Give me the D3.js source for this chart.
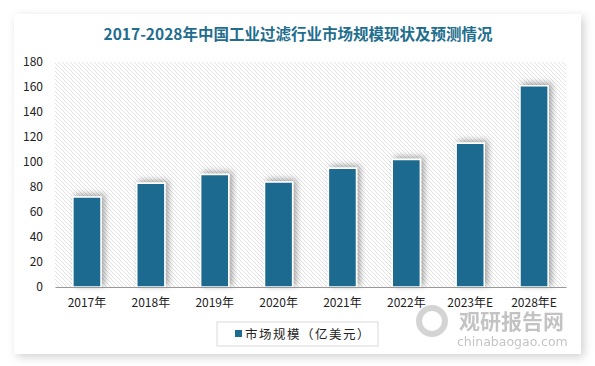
<!DOCTYPE html>
<html lang="zh">
<head>
<meta charset="utf-8">
<title>工业过滤行业市场规模</title>
<script src="https://cdn.jsdelivr.net/npm/d3@7/dist/d3.min.js"></script>
<style>
  body { margin: 0; background: #fff; }
  svg { display: block; font-family: "Noto Sans CJK SC", "Noto Sans", sans-serif; }
</style>
</head>
<body>
<script>
// data
var years = ['2017年', '2018年', '2019年', '2020年', '2021年', '2022年', '2023年E', '2028年E'];
var sizes = [72, 83, 90, 84, 95, 102, 115, 161];
var yTicks = [0, 20, 40, 60, 80, 100, 120, 140, 160, 180];

var W = 595, H = 366;
var plot = { left: 55, right: 566, top: 62, bottom: 287 };
var barColor = '#1d6b8f';

var svg = d3.select('body').append('svg')
    .attr('width', W)
    .attr('height', H);

var defs = svg.append('defs');

var card = defs.append('filter').attr('id', 'cardShadow')
    .attr('x', '-10%').attr('y', '-10%').attr('width', '120%').attr('height', '120%');
card.append('feDropShadow')
    .attr('dx', 3).attr('dy', 3).attr('stdDeviation', 5)
    .attr('flood-color', '#000').attr('flood-opacity', 0.18);

var barShadow = defs.append('filter').attr('id', 'barShadow')
    .attr('x', '-50%').attr('y', '-20%').attr('width', '200%').attr('height', '140%');
barShadow.append('feDropShadow')
    .attr('dx', 3).attr('dy', -2).attr('stdDeviation', 3)
    .attr('flood-color', '#000').attr('flood-opacity', 0.35);

var hatch = defs.append('pattern').attr('id', 'hatch')
    .attr('patternUnits', 'userSpaceOnUse')
    .attr('width', 4).attr('height', 4);
hatch.append('rect').attr('width', 4).attr('height', 4).attr('fill', '#fff');
hatch.append('path')
    .attr('d', 'M-1,-1L5,5M-1,3L1,5M3,-1L5,1')
    .attr('stroke', '#e0e0e0').attr('stroke-width', 0.9);

// card
svg.append('rect')
    .attr('x', 14).attr('y', 14)
    .attr('width', 567).attr('height', 340)
    .attr('fill', '#fff')
    .attr('filter', 'url(#cardShadow)');

// title
svg.append('text')
    .attr('x', 298).attr('y', 40)
    .attr('text-anchor', 'middle')
    .attr('fill', '#1f6e8e')
    .style('font-size', '15.5px')
    .style('font-weight', 'bold')
    .text('2017-2028年中国工业过滤行业市场规模现状及预测情况');

var x = d3.scaleBand()
    .domain(years)
    .range([plot.left, plot.right])
    .paddingInner(0.56)
    .paddingOuter(0.28);

var y = d3.scaleLinear()
    .domain([0, 180])
    .range([plot.bottom, plot.top]);

// plot background
svg.append('rect')
    .attr('x', plot.left).attr('y', plot.top)
    .attr('width', plot.right - plot.left)
    .attr('height', plot.bottom - plot.top)
    .attr('fill', 'url(#hatch)');

// y axis labels
var yAxis = svg.append('g')
    .attr('transform', 'translate(' + (plot.left - 8) + ',0)')
    .call(d3.axisLeft(y).tickValues(yTicks).tickSize(0).tickPadding(4));
yAxis.select('.domain').remove();
yAxis.selectAll('text')
    .attr('fill', '#222')
    .style('font-size', '12px')
    .style('font-family', '"Noto Sans CJK SC", sans-serif');

// bars
svg.append('g').selectAll('rect')
    .data(sizes)
    .enter().append('rect')
    .attr('x', (d, i) => x(years[i]))
    .attr('y', d => y(d))
    .attr('width', x.bandwidth())
    .attr('height', d => y(0) - y(d))
    .attr('fill', barColor)
    .attr('stroke', '#fff')
    .attr('stroke-width', 1.5)
    .attr('filter', 'url(#barShadow)');

// x axis
var xAxis = svg.append('g')
    .attr('transform', 'translate(0,' + plot.bottom + ')')
    .call(d3.axisBottom(x).tickSize(0).tickPadding(11));
xAxis.select('.domain')
    .attr('stroke', '#999')
    .attr('stroke-width', 1.2);
xAxis.selectAll('text')
    .attr('fill', '#222')
    .style('font-size', '12px')
    .style('font-family', '"Noto Sans CJK SC", sans-serif');

// watermark
var wm = svg.append('g').attr('opacity', 0.5);
wm.append('circle')
    .attr('cx', 432).attr('cy', 321).attr('r', 13)
    .attr('fill', 'none').attr('stroke', '#aaa').attr('stroke-width', 6);
wm.append('text')
    .attr('x', 459).attr('y', 329)
    .attr('fill', '#888')
    .style('font-size', '21px')
    .style('font-weight', 'bold')
    .text('观研报告网');
wm.append('text')
    .attr('x', 457).attr('y', 346)
    .attr('fill', '#888')
    .style('font-size', '12.5px')
    .style('font-family', '"DejaVu Sans", sans-serif')
    .text('chinabaogao.com');

// legend
var legend = svg.append('g');
legend.append('rect')
    .attr('x', 217).attr('y', 322)
    .attr('width', 161).attr('height', 24)
    .attr('fill', '#fff')
    .attr('stroke', '#d9d9d9');
legend.append('rect')
    .attr('x', 235).attr('y', 330)
    .attr('width', 7).attr('height', 7)
    .attr('fill', barColor);
legend.append('text')
    .attr('x', 245).attr('y', 339)
    .attr('fill', '#222')
    .style('font-size', '12.5px')
    .style('letter-spacing', '1.5px')
    .text('市场规模（亿美元）');
</script>
</body>
</html>
